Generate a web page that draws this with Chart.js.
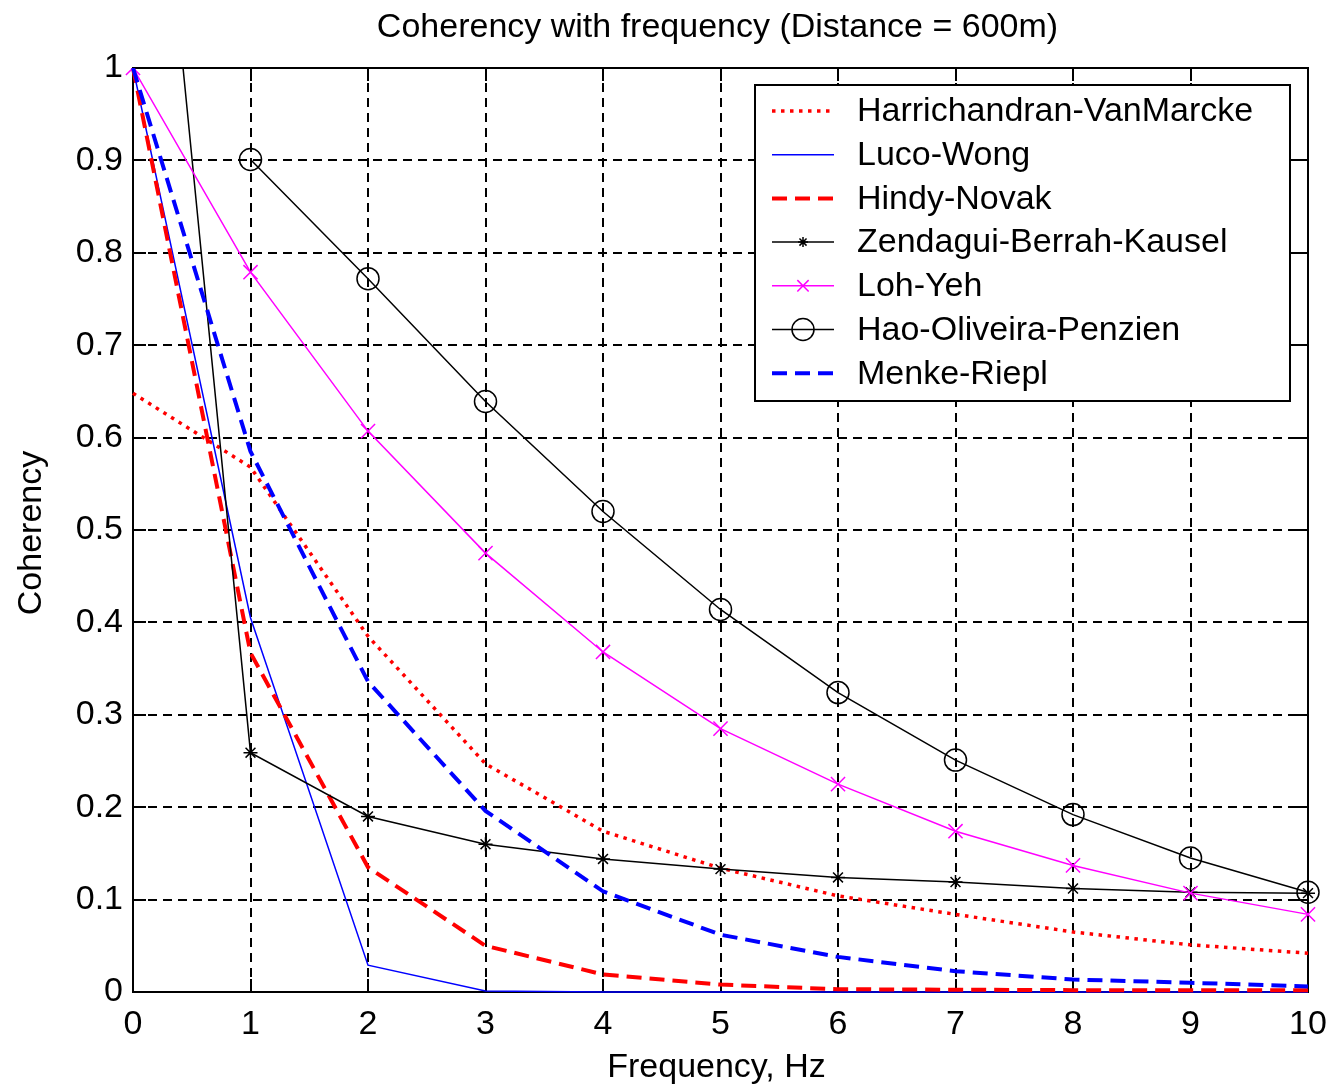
<!DOCTYPE html>
<html>
<head>
<meta charset="utf-8">
<title>Coherency with frequency</title>
<script src="https://cdn.jsdelivr.net/npm/chart.js@4.4.1/dist/chart.umd.min.js"></script>
<style>
    html, body { margin: 0; padding: 0; background: #fff; }
    #wrap { width: 1327px; height: 1089px; }
</style>
</head>
<body>
<div id="wrap"><canvas id="mychart" width="1327" height="1089"></canvas></div>
<script>
// frequency in Hz, one sample per integer
const freq = [0, 1, 2, 3, 4, 5, 6, 7, 8, 9, 10]

// coherency for each model at 600 m separation
const harrichandran = [0.648, 0.568, 0.385, 0.247, 0.174, 0.134, 0.104, 0.084, 0.065, 0.051, 0.042]
const lucoWong      = [1.0, 0.405, 0.029, 0.001, 0, 0, 0, 0, 0, 0, 0]
const hindyNovak    = [1.0, 0.367, 0.135, 0.05, 0.019, 0.008, 0.003, 0.0025, 0.002, 0.002, 0.002]
const zendagui      = [1.55, 0.259, 0.19, 0.16, 0.144, 0.133, 0.124, 0.119, 0.112, 0.108, 0.107]
const lohYeh        = [1.0, 0.779, 0.607, 0.475, 0.368, 0.285, 0.225, 0.174, 0.137, 0.107, 0.084]
const haoOliveira   = [null, 0.901, 0.772, 0.639, 0.52, 0.414, 0.324, 0.251, 0.192, 0.145, 0.108]
const menkeRiepl    = [1.0, 0.585, 0.336, 0.196, 0.109, 0.062, 0.038, 0.0225, 0.0135, 0.01, 0.006]

const seriesNames = [
    'Harrichandran-VanMarcke',
    'Luco-Wong',
    'Hindy-Novak',
    'Zendagui-Berrah-Kausel',
    'Loh-Yeh',
    'Hao-Oliveira-Penzien',
    'Menke-Riepl'
]

const xTicks = [0, 1, 2, 3, 4, 5, 6, 7, 8, 9, 10]
const yTicks = [0, 0.1, 0.2, 0.3, 0.4, 0.5, 0.6, 0.7, 0.8, 0.9, 1]

const FONT = '"Liberation Sans", Arial, sans-serif'
const RED = '#ff0000'
const BLUE = '#0000ff'
const MAGENTA = '#ff00ff'
const BLACK = '#000000'

function toPoints(values) {
    return freq.map((f, i) => ({ x: f, y: values[i] }))
}

// line styles, reused by the legend
const styles = [
    { color: RED, width: 3.5, dash: [3.5, 5.5], marker: null },
    { color: BLUE, width: 1.5, dash: [], marker: null },
    { color: RED, width: 4, dash: [15, 8], marker: null },
    { color: BLACK, width: 1.5, dash: [], marker: 'star', radius: 7 },
    { color: MAGENTA, width: 1.5, dash: [], marker: 'crossRot', radius: 10 },
    { color: BLACK, width: 1.5, dash: [], marker: 'circle', radius: 11 },
    { color: BLUE, width: 4, dash: [15, 8], marker: null }
]

const allValues = [harrichandran, lucoWong, hindyNovak, zendagui, lohYeh, haoOliveira, menkeRiepl]

const datasets = allValues.map((values, i) => {
    const s = styles[i]
    let radius = s.marker ? s.radius : 0
    // no marker for the point that sits above the plot
    const radii = values.map(v => (v === null || v > 1) ? 0 : radius)
    return {
        label: seriesNames[i],
        data: toPoints(values),
        borderColor: s.color,
        backgroundColor: 'rgba(0,0,0,0)',
        borderWidth: s.width,
        borderDash: s.dash,
        borderCapStyle: 'butt',
        tension: 0,
        pointStyle: s.marker || 'circle',
        pointRadius: radii,
        pointHoverRadius: radii,
        pointBorderColor: s.color,
        pointBackgroundColor: 'rgba(0,0,0,0)',
        pointBorderWidth: 1.5,
        spanGaps: false,
        // later series paint over earlier ones
        order: 10 - i,
        clip: { left: false, top: 0, right: false, bottom: false }
    }
})

// dashed grid, box and inward ticks
const framePlugin = {
    id: 'framePlugin',
    beforeDatasetsDraw(chart) {
        const { ctx, chartArea: a, scales } = chart
        ctx.save()
        ctx.strokeStyle = BLACK
        ctx.lineWidth = 2
        ctx.setLineDash([9, 6])
        xTicks.forEach(v => {
            if (v === 0 || v === 10) return
            const x = Math.round(scales.x.getPixelForValue(v))
            ctx.beginPath()
            ctx.moveTo(x, a.top)
            ctx.lineTo(x, a.bottom)
            ctx.stroke()
        })
        yTicks.forEach(v => {
            if (v === 0 || v === 1) return
            const y = Math.round(scales.y.getPixelForValue(v))
            ctx.beginPath()
            ctx.moveTo(a.left, y)
            ctx.lineTo(a.right, y)
            ctx.stroke()
        })
        ctx.setLineDash([])
        const tick = 13
        xTicks.forEach(v => {
            const x = Math.round(scales.x.getPixelForValue(v))
            ctx.beginPath()
            ctx.moveTo(x, a.bottom)
            ctx.lineTo(x, a.bottom - tick)
            ctx.moveTo(x, a.top)
            ctx.lineTo(x, a.top + tick)
            ctx.stroke()
        })
        yTicks.forEach(v => {
            const y = Math.round(scales.y.getPixelForValue(v))
            ctx.beginPath()
            ctx.moveTo(a.left, y)
            ctx.lineTo(a.left + tick, y)
            ctx.moveTo(a.right, y)
            ctx.lineTo(a.right - tick, y)
            ctx.stroke()
        })
        ctx.strokeRect(a.left, a.top, a.right - a.left, a.bottom - a.top)
        ctx.restore()
    },
    afterDraw(chart) {
        const { ctx, chartArea: a } = chart
        ctx.save()
        ctx.fillStyle = BLACK
        ctx.font = '34px ' + FONT
        ctx.textAlign = 'center'
        ctx.textBaseline = 'middle'
        ctx.fillText('Coherency with frequency (Distance = 600m)', (a.left + a.right) / 2 - 3, 28)
        ctx.fillText('Frequency, Hz', (a.left + a.right) / 2 - 4, 1068)
        ctx.translate(32, (a.top + a.bottom) / 2 + 3)
        ctx.rotate(-Math.PI / 2)
        ctx.fillText('Coherency', 0, 0)
        ctx.restore()
        drawLegend(ctx)
    }
}

function drawMarker(ctx, style, r, x, y) {
    ctx.beginPath()
    if (style === 'circle') {
        ctx.arc(x, y, r, 0, Math.PI * 2)
    } else if (style === 'crossRot') {
        const d = r * Math.SQRT1_2
        ctx.moveTo(x - d, y - d); ctx.lineTo(x + d, y + d)
        ctx.moveTo(x - d, y + d); ctx.lineTo(x + d, y - d)
    } else if (style === 'star') {
        const d = r * Math.SQRT1_2
        ctx.moveTo(x - r, y); ctx.lineTo(x + r, y)
        ctx.moveTo(x, y - r); ctx.lineTo(x, y + r)
        ctx.moveTo(x - d, y - d); ctx.lineTo(x + d, y + d)
        ctx.moveTo(x - d, y + d); ctx.lineTo(x + d, y - d)
    }
    ctx.stroke()
}

function drawLegend(ctx) {
    const box = { x: 755, y: 85, w: 535, h: 316 }
    const rowTop = 111
    const rowGap = 43.7
    ctx.save()
    ctx.fillStyle = '#fff'
    ctx.fillRect(box.x, box.y, box.w, box.h)
    ctx.strokeStyle = BLACK
    ctx.lineWidth = 2
    ctx.strokeRect(box.x, box.y, box.w, box.h)
    ctx.font = '34px ' + FONT
    ctx.textBaseline = 'middle'
    ctx.textAlign = 'left'
    seriesNames.forEach((name, i) => {
        const s = styles[i]
        const y = rowTop + i * rowGap
        ctx.strokeStyle = s.color
        ctx.lineWidth = s.width
        ctx.lineCap = 'butt'
        ctx.setLineDash(s.dash)
        ctx.beginPath()
        ctx.moveTo(772, y)
        ctx.lineTo(834, y)
        ctx.stroke()
        ctx.setLineDash([])
        if (s.marker) {
            ctx.lineWidth = 1.5
            drawMarker(ctx, s.marker, s.marker === 'circle' ? 11 : (s.marker === 'star' ? 5 : 8), 803, y)
        }
        ctx.fillStyle = BLACK
        ctx.fillText(name, 857, y + 1)
    })
    ctx.restore()
}

const ctx = document.getElementById('mychart')

window.cohchart = new Chart(ctx, {
    type: 'line',
    data: { datasets: datasets },
    options: {
        responsive: false,
        maintainAspectRatio: false,
        devicePixelRatio: 1,
        animation: false,
        events: [],
        layout: { padding: { left: 0, top: 68, right: 19, bottom: 0 } },
        plugins: {
            legend: { display: false },
            title: { display: false },
            tooltip: { enabled: false }
        },
        scales: {
            x: {
                type: 'linear',
                min: 0,
                max: 10,
                afterBuildTicks(scale) {
                    scale.ticks = xTicks.map(v => ({ value: v }))
                },
                afterFit(scale) {
                    scale.height = 97
                    // the "10" label may hang past the plot edge
                    scale.paddingLeft = 0
                    scale.paddingRight = 0
                },
                grid: { display: false, drawTicks: false },
                border: { display: false },
                ticks: {
                    color: BLACK,
                    padding: 12,
                    maxRotation: 0,
                    autoSkip: false,
                    font: { family: FONT, size: 34 },
                    callback: v => String(v)
                }
            },
            y: {
                type: 'linear',
                min: 0,
                max: 1,
                afterBuildTicks(scale) {
                    scale.ticks = yTicks.map(v => ({ value: v }))
                },
                afterFit(scale) {
                    scale.width = 133
                    scale.paddingTop = 0
                    scale.paddingBottom = 0
                },
                grid: { display: false, drawTicks: false },
                border: { display: false },
                ticks: {
                    color: BLACK,
                    padding: 10,
                    autoSkip: false,
                    font: { family: FONT, size: 34 },
                    callback: v => String(+v.toFixed(1))
                }
            }
        }
    },
    plugins: [framePlugin]
})
</script>
</body>
</html>
